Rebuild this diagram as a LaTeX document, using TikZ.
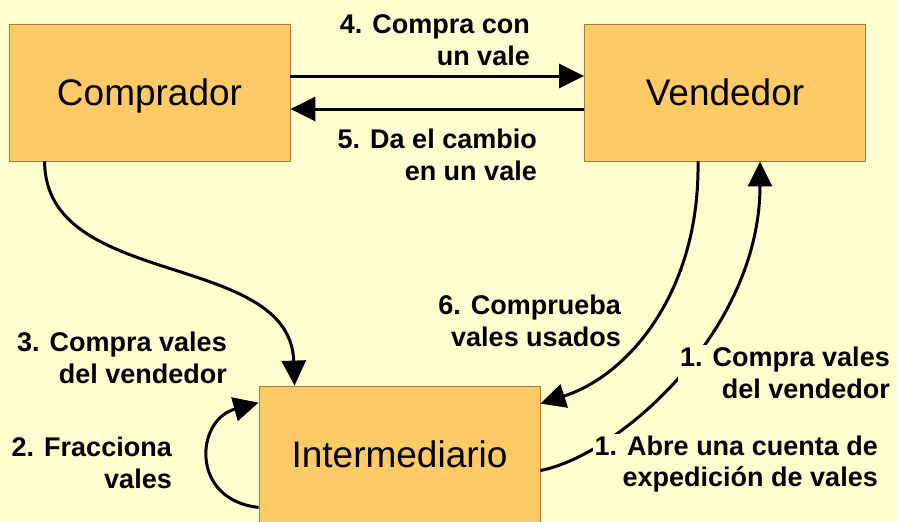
\documentclass[tikz,border=0pt]{standalone}
\usepackage{fontspec}
\setmainfont{Liberation Sans}
\usepackage{xcolor}
\usetikzlibrary{arrows.meta}
\definecolor{bgyellow}{RGB}{255,253,208}
\definecolor{boxorange}{RGB}{253,202,102}
\definecolor{boxedge}{RGB}{160,125,60}
\tikzset{
	box/.style={fill=boxorange,draw=boxedge,line width=0.8pt,minimum width=281pt,minimum height=137pt,inner sep=0pt,text depth=0pt,font=\fontsize{37}{44}\selectfont},
	lbl/.style={fill=bgyellow,inner sep=2pt,align=right,anchor=east,font=\bfseries\fontsize{27}{31.5}\selectfont},
	arr/.style={line width=3pt,-{Triangle[length=25pt,width=24pt]}}
}
\begin{document}
\begin{tikzpicture}[x=1pt,y=-1pt]
	\fill[bgyellow] (0,0) rectangle (897,522);
	\useasboundingbox (0,0) rectangle (897,522);
	
	\node[box] (comp) at (149.5,92.5) {Comprador};
	\node[box] (vend) at (725,92.5) {Vendedor};
	\node[box] (inter) at (399.5,454.5) {Intermediario};
	
	\draw[arr] ([yshift=16.5pt]comp.east) -- ([yshift=16.5pt]vend.west);
	\draw[arr] ([yshift=-16.5pt]vend.west) -- ([yshift=-16.5pt]comp.east);
	\draw[arr] ([xshift=36pt]comp.south west) .. controls (45,290) and (290,250) .. ([xshift=36pt]inter.north west);
	\draw[arr] ([yshift=16pt]inter.south west) .. controls (190,500) and (195,420) .. ([yshift=-17pt]inter.north west);
	\draw[arr] ([xshift=-27pt]vend.south) .. controls (700,290) and (630,375) .. ([yshift=-18pt]inter.north east);
	\draw[arr] ([yshift=-16pt]inter.east) .. controls (620,455) and (760,330) .. ([xshift=35pt]vend.south);
	
	\node[lbl] (l4) at (532,40) {4. Compra con\\un vale};
	\node[lbl] (l5) at (539,155) {5. Da el cambio\\en un vale};
	\node[lbl] (l3) at (229,358) {3. Compra vales\\del vendedor};
	\node[lbl] (l2) at (174,463) {2. Fracciona\\vales};
	\node[lbl] (l6) at (623,321) {6. Comprueba\\vales usados};
	\node[lbl] (l1a) at (892,373) {1. Compra vales\\del vendedor};
	\node[lbl] (l1b) at (880,464) {1. Abre una cuenta de\\expedición de vales};
\end{tikzpicture}
\end{document}
